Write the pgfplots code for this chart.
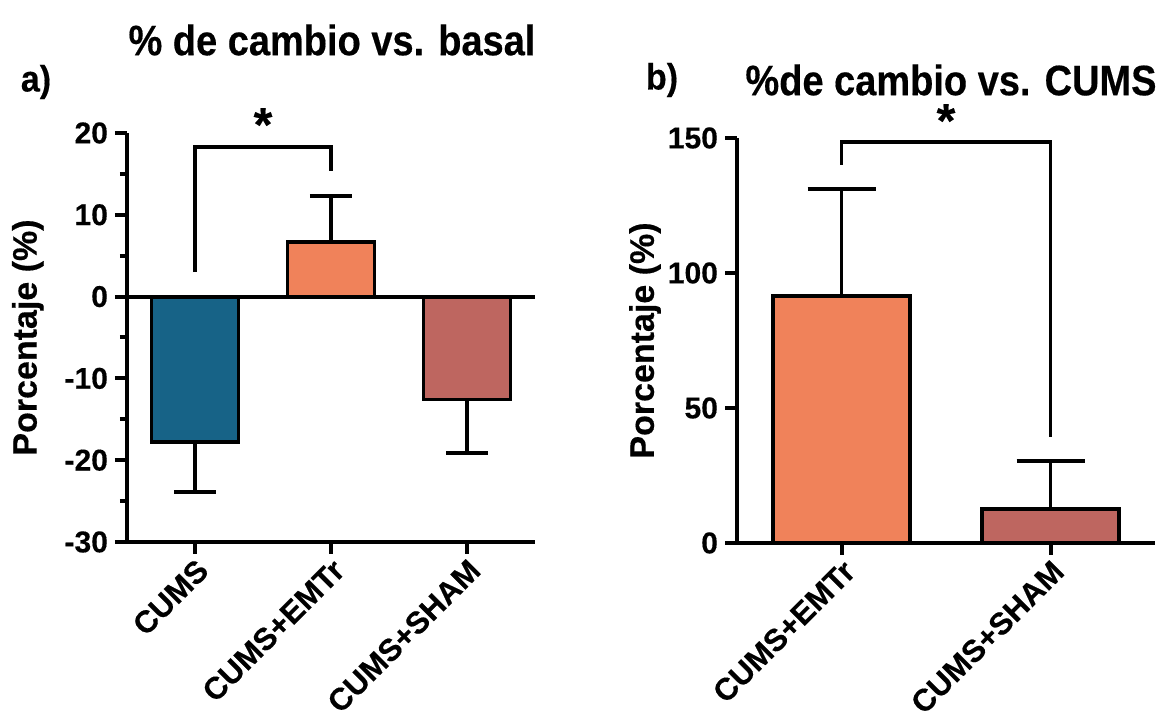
\documentclass[border=0pt]{standalone}
\usepackage{fontspec}
\setmainfont{Liberation Sans}[BoldFeatures={FakeBold=0.4}]
\usepackage{graphicx}
\usepackage{pgfplots}
\pgfplotsset{compat=1.18}
\definecolor{cblue}{HTML}{176387}
\definecolor{corange}{HTML}{F0825A}
\definecolor{cred}{HTML}{BE6660}
\pgfplotsset{
  gp/.style={
    scale only axis, clip=false,
    axis x line*=bottom, axis y line*=left,
    axis line style={line width=2pt},
    tick align=outside,
    major tick length=6pt, minor tick length=3.5pt,
    every tick/.style={black, line width=2pt},
    ybar, bar shift=0pt,
    yticklabel style={font=\bfseries\fontsize{15}{15}\selectfont},
    xticklabel style={font=\bfseries\fontsize{15.5}{15.5}\selectfont, rotate=45, anchor=north east, inner sep=1pt},
    ylabel style={font=\bfseries\fontsize{17}{17}\selectfont, anchor=center},
    error bars/y explicit,
    error bars/error bar style={line width=1.8pt, black},
  },
  gbar/.style={draw=black, line width=1.8pt, fill=#1},
}
\begin{document}
\begin{tikzpicture}
\path[use as bounding box] (0,0) rectangle (581.5pt,357.5pt);
% panel a
\begin{axis}[gp, at={(63.5pt,86.5pt)}, anchor=south west, width=204pt, height=204.5pt,
  xmin=-0.5, xmax=2.5, ymin=-30, ymax=20, bar width=0.64,
  xtick={0,1,2}, xticklabels={CUMS,CUMS+EMTr,CUMS+SHAM},
  ytick={-30,-20,-10,0,10,20}, yticklabels={-30,-20,-10,0,10,20},
  minor ytick={-25,-15,-5,5,15},
  ylabel={Porcentaje (\%)}, ylabel style={at={(axis description cs:-0.243,0.5)}},
  error bars/error mark options={rotate=90, mark size=10.5pt, line width=1.8pt, black}]
\addplot[gbar=cblue, error bars/y dir=minus] coordinates {(0,-17.8) +- (0,6.1)};
\addplot[gbar=corange, error bars/y dir=plus] coordinates {(1,6.7) +- (0,5.6)};
\addplot[gbar=cred, error bars/y dir=minus] coordinates {(2,-12.6) +- (0,6.5)};
\draw[line width=2pt] (axis cs:-0.5,0) -- (axis cs:2.5,0);
\draw[line width=1.8pt] (axis cs:0,3.0) -- (axis cs:0,18.3) -- (axis cs:1,18.3) -- (axis cs:1,15.4);
\node[font=\bfseries\fontsize{24}{24}\selectfont, anchor=base] at (axis cs:0.5,19.0) {*};
\end{axis}
% panel b
\begin{axis}[gp, at={(368.5pt,86pt)}, anchor=south west, width=209pt, height=202.5pt,
  xmin=-0.5, xmax=1.5, ymin=0, ymax=150, bar width=0.653,
  xtick={0,1}, xticklabels={CUMS+EMTr,CUMS+SHAM},
  ytick={0,50,100,150}, yticklabels={0,50,100,150},
  ylabel={Porcentaje (\%)}, ylabel style={at={(axis description cs:-0.22,0.5)}},
  error bars/error mark options={rotate=90, mark size=17pt, line width=1.8pt, black}]
\addplot[gbar=corange, error bars/y dir=plus] coordinates {(0,91.5) +- (0,39.5)};
\addplot[gbar=cred, error bars/y dir=plus] coordinates {(1,12.6) +- (0,17.8)};
\draw[line width=1.8pt] (axis cs:0,140) -- (axis cs:0,148.5) -- (axis cs:1,148.5) -- (axis cs:1,39.3);
\node[font=\bfseries\fontsize{24}{24}\selectfont, anchor=base] at (axis cs:0.5,150.3) {*};
\end{axis}
% titles
\node[font=\bfseries\fontsize{19}{19}\selectfont] at (166pt,337.5pt) {\scalebox{1}[1.12]{\% de cambio vs. basal}};
\node[font=\bfseries\fontsize{17}{17}\selectfont] at (18pt,316.5pt) {\scalebox{1}[1.08]{a)}};
\node[font=\bfseries\fontsize{19}{19}\selectfont] at (475.5pt,317.5pt) {\scalebox{1}[1.12]{\%de cambio vs. CUMS}};
\node[font=\bfseries\fontsize{17}{17}\selectfont] at (331pt,317.5pt) {\scalebox{1}[1.08]{b)}};
\end{tikzpicture}
\end{document}
